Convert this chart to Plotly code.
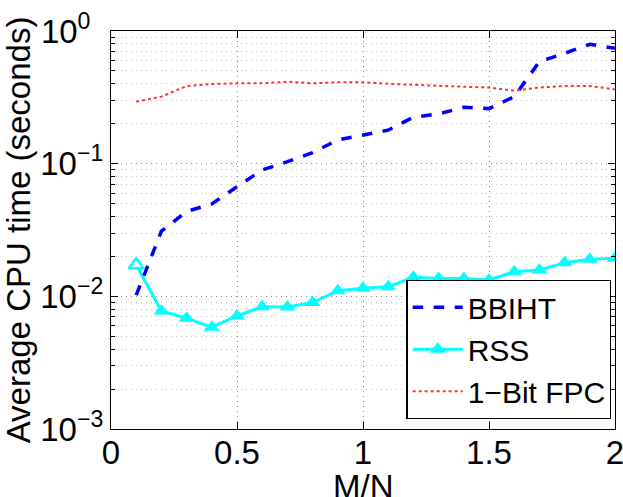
import plotly.graph_objects as go

mn = [0.1, 0.2, 0.3, 0.4, 0.5, 0.6, 0.7, 0.8, 0.9, 1.0,
      1.1, 1.2, 1.3, 1.4, 1.5, 1.6, 1.7, 1.8, 1.9, 2.0]
bbiht = [0.0102, 0.031, 0.0436, 0.0497, 0.067, 0.0897, 0.1035, 0.121, 0.151, 0.164,
         0.179, 0.224, 0.237, 0.266, 0.26, 0.32, 0.587, 0.679, 0.794, 0.741]
rss = [0.01725, 0.00776, 0.00684, 0.00585, 0.00711, 0.00836, 0.0083, 0.00897, 0.01104, 0.0115,
       0.0118, 0.0139, 0.0136, 0.0136, 0.0133, 0.0153, 0.0158, 0.0179, 0.019, 0.0194]
fpc = [0.293, 0.32, 0.385, 0.399, 0.403, 0.403, 0.415, 0.403, 0.41, 0.41,
       0.40, 0.392, 0.385, 0.38, 0.375, 0.355, 0.375, 0.385, 0.385, 0.363]

x_ticks = [0, 0.5, 1, 1.5, 2]
x_ticktext = ["0", "0.5", "1", "1.5", "2"]
y_ticks = [1e-3, 1e-2, 1e-1, 1]
y_ticktext = ["10<sup>−3</sup>", "10<sup>−2</sup>", "10<sup>−1</sup>", "10<sup>0&nbsp;&nbsp;</sup>"]
x_title = "M/N"
y_title = "Average CPU time (seconds)"

FONT = "Liberation Sans, Arial, Helvetica, sans-serif"

fig = go.Figure()
fig.add_trace(go.Scatter(x=mn, y=rss, mode="lines+markers", name="RSS", legendrank=2,
                         line=dict(color="#00FFFF", width=3),
                         marker=dict(symbol="triangle-up", size=14, color="#00FFFF")))
# first RSS marker appears hollow in the reference
fig.add_trace(go.Scatter(x=mn[:1], y=rss[:1], mode="markers", showlegend=False,
                         marker=dict(symbol="triangle-up", size=13, color="white",
                                     line=dict(color="#00FFFF", width=2.5))))
fig.add_trace(go.Scatter(x=mn, y=bbiht, mode="lines", name="BBIHT", legendrank=1,
                         line=dict(color="#0000FF", width=3.5, dash="dash")))
fig.add_trace(go.Scatter(x=mn, y=fpc, mode="lines", name="1−Bit FPC", legendrank=3,
                         line=dict(color="#FF3030", width=2, dash="dot")))

axis_common = dict(showline=True, linecolor="black", linewidth=1.2, mirror="ticks",
                   ticks="inside", ticklen=7, tickcolor="black", zeroline=False,
                   showgrid=True, gridcolor="#888888", griddash="1px,4px", gridwidth=1,
                   automargin=False, ticklabeloverflow="allow",
                   tickfont=dict(size=33, color="black", family=FONT))

fig.update_xaxes(range=[0, 2], tickvals=x_ticks, ticktext=x_ticktext,
                 ticklabelstandoff=-6,
                 **axis_common)
fig.update_yaxes(type="log", range=[-3, 0], tickvals=y_ticks, ticktext=y_ticktext,
                 title=dict(text=y_title, font=dict(size=33, color="black", family=FONT), standoff=6),
                 minor=dict(showgrid=True, gridcolor="#BEBEBE", griddash="1px,4px", gridwidth=1,
                            ticks="inside", ticklen=4, tickcolor="black", dtick="D1"),
                 **axis_common)

fig.add_annotation(text=x_title, xref="paper", yref="paper", x=0.5, y=-0.092,
                   xanchor="center", yanchor="top", showarrow=False,
                   font=dict(size=33, color="black", family=FONT))

fig.update_layout(
    width=623, height=497,
    margin=dict(l=111, r=8, t=31, b=68),
    paper_bgcolor="white", plot_bgcolor="white",
    font=dict(family=FONT, color="black"),
    legend=dict(x=0.993, y=0.025, xanchor="right", yanchor="bottom",
                bgcolor="white", bordercolor="black", borderwidth=1.2,
                font=dict(size=30, color="black", family=FONT),
                itemwidth=50, tracegroupgap=0),
    showlegend=True,
)

fig.write_html("out.html", config={"displayModeBar": False},
               post_script="document.body.style.margin='0px';")
